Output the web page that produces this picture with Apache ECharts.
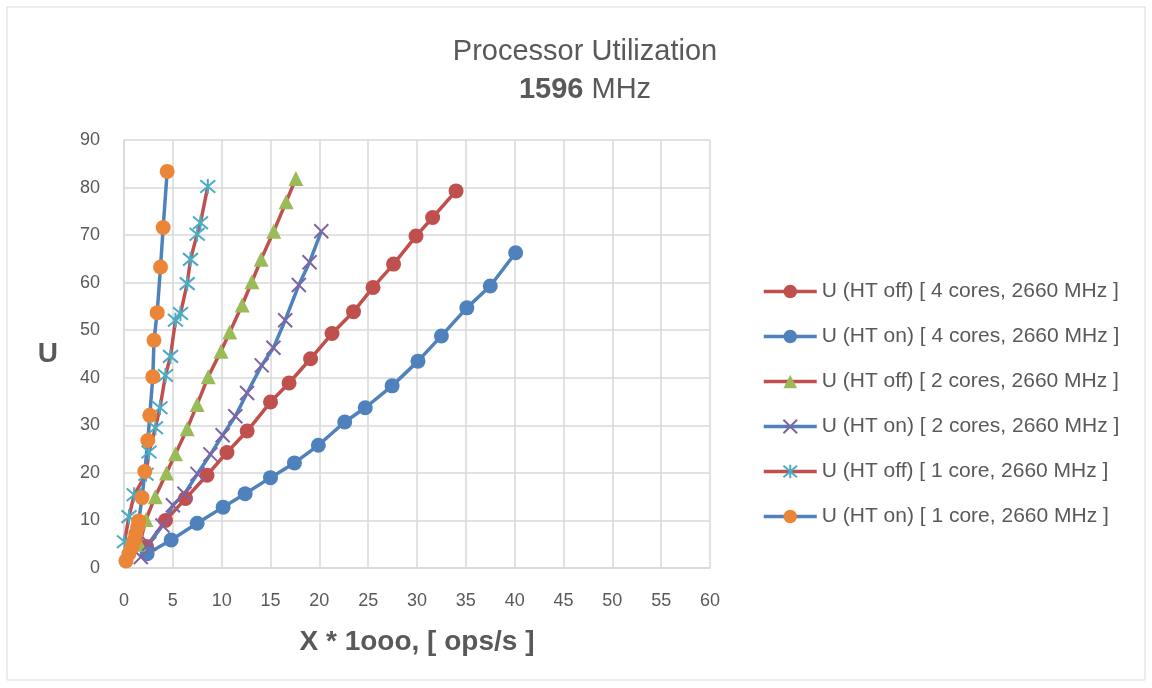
<!DOCTYPE html>
<html>
<head>
<meta charset="utf-8">
<script src="https://cdn.jsdelivr.net/npm/echarts@6/dist/echarts.min.js"></script>
<style>
  html, body { margin: 0; padding: 0; background: #fff; }
  #chart { width: 1152px; height: 688px; }
</style>
</head>
<body>
<div id="chart"></div>
<script>
// series names (legend order)
var seriesNames = [
  "U (HT off) [ 4 cores, 2660 MHz ]",
  "U (HT on) [ 4 cores, 2660 MHz ]",
  "U (HT off) [ 2 cores, 2660 MHz ]",
  "U (HT on) [ 2 cores, 2660 MHz ]",
  "U (HT off) [ 1 core, 2660 MHz ]",
  "U (HT on) [ 1 core, 2660 MHz ]"
];

// [X * 1000 ops/s, U]
var htOff4 = [[2.3, 4.5], [4.25, 10.0], [6.3, 14.6], [8.5, 19.5], [10.54, 24.3], [12.61, 28.8], [15.0, 34.9],
  [16.9, 38.9], [19.1, 44.0], [21.3, 49.3], [23.5, 53.9], [25.5, 59.0], [27.6, 63.9], [29.9, 69.8],
  [31.6, 73.7], [34.0, 79.3]];
var htOn4 = [[2.37, 3.0], [4.83, 5.9], [7.49, 9.4], [10.15, 12.8], [12.4, 15.6], [15.0, 19.0], [17.45, 22.1],
  [19.9, 25.8], [22.6, 30.7], [24.7, 33.7], [27.45, 38.3], [30.1, 43.5], [32.5, 48.8], [35.1, 54.7],
  [37.5, 59.3], [40.1, 66.3]];
var htOff2 = [[1.6, 5.0], [2.25, 10.2], [3.2, 15.0], [4.35, 20.0], [5.27, 24.0], [6.47, 29.3], [7.49, 34.4],
  [8.62, 40.2], [9.93, 45.6], [10.83, 49.6], [12.1, 55.3], [13.1, 60.2], [14.04, 64.9], [15.33, 70.8],
  [16.6, 77.0], [17.6, 81.9]];
var htOn2 = [[1.72, 2.3], [2.58, 5.1], [3.94, 8.95], [5.0, 13.2], [6.19, 15.6], [7.52, 19.8], [8.85, 23.9],
  [10.1, 27.9], [11.4, 31.9], [12.6, 36.8], [14.1, 42.6], [15.3, 46.3], [16.5, 52.1], [17.9, 59.5],
  [19.0, 64.3], [20.2, 70.8]];
var htOff1 = [[0.05, 5.5], [0.51, 10.8], [1.04, 15.4], [2.25, 19.7], [2.56, 24.4], [3.22, 29.5], [3.68, 33.7],
  [4.25, 40.5], [4.76, 44.5], [5.27, 52.1], [5.78, 53.5], [6.47, 59.8], [6.81, 64.9], [7.49, 70.2],
  [7.83, 72.6], [8.58, 80.2]];
var htOn1 = [[0.2, 1.5], [0.5, 3.0], [0.8, 4.4], [1.05, 5.8], [1.2, 7.2], [1.4, 8.6], [1.5, 9.9],
  [1.85, 14.8], [2.13, 20.3], [2.44, 26.8], [2.64, 32.1], [2.95, 40.2], [3.07, 47.9], [3.4, 53.7],
  [3.74, 63.3], [4.01, 71.6], [4.42, 83.4]];

var RED = "#C0504D", BLUE = "#4F81BD", GREEN = "#9BBB59", PURPLE = "#8064A2", CYAN = "#4BACC6", ORANGE = "#EB8538";
var crossPath = "path://M0 0L10 10M10 0L0 10";
var starPath = "path://M0 0L10 10M10 0L0 10M5 -1L5 11";

function mk(name, data, lineColor, markColor, symbol, size, stroke) {
  var s = {
    name: name,
    type: "line",
    data: data,
    symbol: symbol,
    symbolSize: size,
    lineStyle: { color: lineColor, width: 3.5 },
    itemStyle: { color: markColor },
    emphasis: { disabled: true }
  };
  if (stroke) {
    s.itemStyle = { color: markColor, borderColor: markColor, borderWidth: 2 };
  }
  return s;
}

var myChart = echarts.init(document.getElementById("chart"));
var font = "Liberation Sans, Arial, sans-serif";
var grey = "#595959";

var option = {
  animation: false,
  textStyle: { fontFamily: font },
  title: {
    text: "Processor Utilization\n{b|1596} MHz",
    left: 580,
    textAlign: "center",
    top: 28,
    textStyle: {
      fontSize: 29,
      fontWeight: "normal",
      color: grey,
      lineHeight: 38,
      rich: { b: { fontSize: 29, fontWeight: "bold", color: grey, lineHeight: 38 } }
    }
  },
  graphic: [{
    type: "rect",
    shape: { x: 7, y: 7, width: 1138, height: 673 },
    style: { fill: "none", stroke: "#d9d9d9", lineWidth: 1 }
  }],
  legend: {
    orient: "vertical",
    left: 757,
    top: 275,
    itemWidth: 53,
    itemHeight: 17,
    itemGap: 22,
    lineStyle: { width: 3.5 },
    textStyle: { fontSize: 21, color: grey, lineHeight: 23 },
    data: seriesNames
  },
  grid: { left: 124, right: 442, top: 140, bottom: 120, containLabel: false },
  xAxis: {
    type: "value",
    min: 0, max: 60, interval: 5,
    name: "X * 1ooo, [ ops/s ]",
    nameLocation: "middle",
    nameGap: 60,
    nameTextStyle: { fontSize: 28, fontWeight: "bold", color: grey },
    axisLine: { lineStyle: { color: "#d9d9d9", width: 1.5 } },
    axisTick: { show: false },
    axisLabel: { fontSize: 18, color: grey, margin: 24 },
    splitLine: { show: true, lineStyle: { color: "#d9d9d9", width: 1.5 } }
  },
  yAxis: {
    type: "value",
    min: 0, max: 90, interval: 10,
    name: "U",
    nameLocation: "middle",
    nameGap: 66,
    nameRotate: 0,
    nameTextStyle: { fontSize: 28, fontWeight: "bold", color: grey },
    axisLine: { show: true, lineStyle: { color: "#d9d9d9", width: 1.5 } },
    axisTick: { show: false },
    axisLabel: { fontSize: 18, color: grey, margin: 24 },
    splitLine: { show: true, lineStyle: { color: "#d9d9d9", width: 1.5 } }
  },
  series: [
    mk(seriesNames[0], htOff4, RED, RED, "circle", 15),
    mk(seriesNames[1], htOn4, BLUE, BLUE, "circle", 15),
    mk(seriesNames[2], htOff2, RED, GREEN, "triangle", 15),
    mk(seriesNames[3], htOn2, BLUE, PURPLE, crossPath, 14, true),
    mk(seriesNames[4], htOff1, RED, CYAN, starPath, 15, true),
    mk(seriesNames[5], htOn1, BLUE, ORANGE, "circle", 15)
  ]
};

option && myChart.setOption(option);
</script>
</body>
</html>
